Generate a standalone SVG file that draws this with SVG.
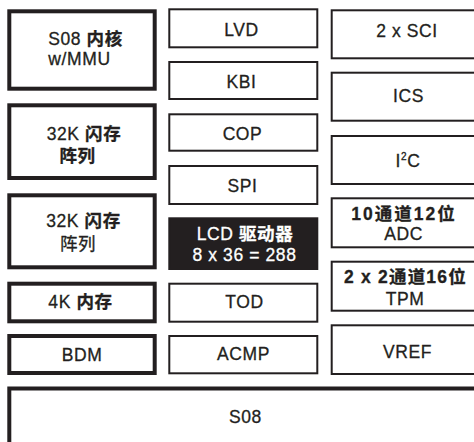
<svg xmlns="http://www.w3.org/2000/svg" width="474" height="442" viewBox="0 0 474 442">
<style>
  .thick { fill: #fff; stroke: #231f20; stroke-width: 4; }
  .thin { fill: #fff; stroke: #231f20; stroke-width: 2; }
  .dark { fill: #231f20; stroke: #231f20; stroke-width: 2; }
  text { font-family: "Liberation Sans", "Noto Sans CJK SC", sans-serif; font-size: 17.5px; fill: #231f20; stroke: #231f20; stroke-width: 0.3; text-anchor: middle; letter-spacing: 0.6px; }
  .inv { fill: #fff; stroke: #fff; }
  .b { font-weight: bold; }
  .sp { letter-spacing: 2px; }
  .sp2 { letter-spacing: 1.2px; }
  .sup { font-size: 10px; }
</style>
<rect width="474" height="442" fill="#fff"/>
<g id="connectors"/>
<!-- left column -->
<g id="core">
  <rect class="thick" x="9.3" y="11.3" width="145.4" height="77.4"/>
  <text x="85.5" y="45">S08 <tspan class="b">内核</tspan></text>
  <text x="79.5" y="65">w/MMU</text>
</g>
<g id="flash1">
  <rect class="thick" x="9.3" y="105.3" width="145.4" height="72.7"/>
  <text x="84" y="140">32K <tspan class="b">闪存</tspan></text>
  <text x="77.5" y="162" class="b">阵列</text>
</g>
<g id="flash2">
  <rect class="thick" x="9.3" y="195.3" width="145.4" height="72"/>
  <text x="83.5" y="227">32K <tspan class="b">闪存</tspan></text>
  <text x="78" y="250">阵列</text>
</g>
<g id="ram">
  <rect class="thick" x="9.3" y="283.7" width="145.4" height="37.6"/>
  <text x="80.5" y="308">4K <tspan class="b">内存</tspan></text>
</g>
<g id="bdm">
  <rect class="thick" x="9.3" y="336" width="145.4" height="37"/>
  <text x="82" y="360.5">BDM</text>
</g>
<!-- middle column -->
<g id="lvd">
  <rect class="thin" x="169.3" y="9.3" width="148" height="38"/>
  <text x="241.5" y="36">LVD</text>
</g>
<g id="kbi">
  <rect class="thin" x="169.3" y="62" width="148" height="37"/>
  <text x="241.5" y="88">KBI</text>
</g>
<g id="cop">
  <rect class="thin" x="169.3" y="114.3" width="148" height="36.4"/>
  <text x="242.5" y="140">COP</text>
</g>
<g id="spi">
  <rect class="thin" x="169.3" y="166" width="148" height="38"/>
  <text x="242.5" y="192">SPI</text>
</g>
<g id="lcd">
  <rect class="dark" x="169.3" y="218.3" width="148" height="50.7"/>
  <text x="245" y="239.5" class="inv">LCD <tspan class="b">驱动器</tspan></text>
  <text x="244.5" y="260.5" class="inv">8 x 36 = 288</text>
</g>
<g id="tod">
  <rect class="thin" x="169.3" y="283.7" width="148" height="38"/>
  <text x="244.5" y="308">TOD</text>
</g>
<g id="acmp">
  <rect class="thin" x="169.3" y="336" width="148" height="37.3"/>
  <text x="243.5" y="360">ACMP</text>
</g>
<!-- right column -->
<g id="sci">
  <rect class="thin" x="331.7" y="10.3" width="160" height="48"/>
  <text x="407" y="36.5">2 x SCI</text>
</g>
<g id="ics">
  <rect class="thin" x="331.7" y="72.7" width="160" height="48"/>
  <text x="408.5" y="101.5">ICS</text>
</g>
<g id="i2c">
  <rect class="thin" x="331.7" y="136" width="160" height="48"/>
  <text x="408" y="166.5">I<tspan class="sup" dy="-7">2</tspan><tspan dy="7">C</tspan></text>
</g>
<g id="adc">
  <rect class="thin" x="331.7" y="198.3" width="160" height="49"/>
  <text x="404" y="219.5" class="b sp">10通道12位</text>
  <text x="403.5" y="240">ADC</text>
</g>
<g id="tpm">
  <rect class="thin" x="331.7" y="261.7" width="160" height="49"/>
  <text x="405.5" y="283" class="b sp2">2 x 2通道16位</text>
  <text x="405" y="305">TPM</text>
</g>
<g id="vref">
  <rect class="thin" x="331.7" y="325.3" width="160" height="48.7"/>
  <text x="407.5" y="358">VREF</text>
</g>
<!-- bottom -->
<g id="s08">
  <rect class="thick" x="9.3" y="388.5" width="480" height="80"/>
  <text x="245.5" y="423">S08</text>
</g>
</svg>
